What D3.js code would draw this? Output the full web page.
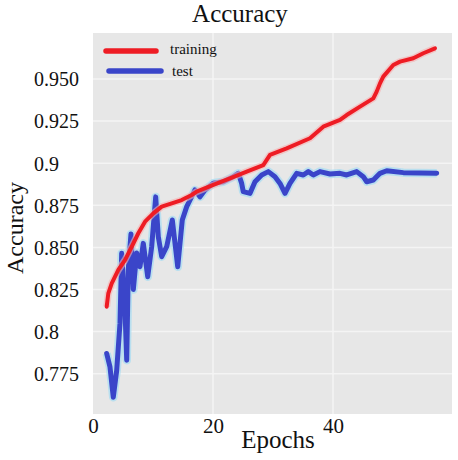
<!DOCTYPE html>
<html><head><meta charset="utf-8">
<script src="https://cdn.jsdelivr.net/npm/d3@7/dist/d3.min.js"></script>
<style>body{margin:0;background:#fff}svg{display:block}</style>
</head><body>
<script>
// ---- data ----
const seriesNames = ["training", "test"];
const trainEpochs = [2.28,2.55,3.12,4.22,5.33,6.45,7.55,8.67,10.05,11.45,13.12,14.78,16.45,17.28,20.05,22.83,25.62,28.38,29.5,32.28,36.17,38.38,41.17,42.28,44.5,46.72,47.28,47.83,48.38,50.05,51.17,53.38,55.05,57.0];
const trainAcc = [0.8148,0.8227,0.8287,0.8366,0.8425,0.8504,0.8584,0.8653,0.8702,0.8742,0.8762,0.8781,0.8811,0.8831,0.8871,0.8910,0.8950,0.8989,0.9049,0.9088,0.9148,0.9217,0.9257,0.9286,0.9336,0.9385,0.9425,0.9474,0.9514,0.9583,0.9603,0.9623,0.9653,0.9682];
const testEpochs = [2.28,2.83,3.38,3.95,4.5,4.78,5.33,5.62,5.88,6.33,6.72,7.28,7.83,8.38,9.12,9.78,10.45,10.88,11.45,12.28,13.22,14.12,14.88,15.62,17.0,17.83,18.67,20.05,21.72,23.38,24.22,24.78,25.05,26.17,27.0,28.12,29.22,30.33,31.17,32.0,32.83,33.95,35.05,35.88,36.72,37.83,39.5,41.17,42.28,43.95,45.05,45.62,46.72,47.83,48.95,51.72,57.28];
const testAcc = [0.787,0.779,0.761,0.777,0.805,0.8465,0.813,0.783,0.837,0.858,0.825,0.8467,0.8385,0.8524,0.8326,0.8504,0.880,0.8564,0.8445,0.8504,0.8663,0.8385,0.8663,0.8742,0.8841,0.880,0.8841,0.8881,0.889,0.892,0.894,0.888,0.8831,0.8821,0.889,0.893,0.895,0.892,0.888,0.8821,0.888,0.894,0.893,0.895,0.893,0.895,0.8936,0.894,0.893,0.895,0.892,0.889,0.890,0.894,0.8955,0.8944,0.894];
const yTickValues = [0.95,0.925,0.9,0.875,0.85,0.825,0.8,0.775];
const yTickLabels = ["0.950","0.925","0.9","0.875","0.850","0.825","0.8","0.775"];
const xTickValues = [0,20,40];
const xTickLabels = ["0","20","40"];

// ---- layout ----
const W = 458, H = 460;
const plot = {left: 93, right: 452, top: 33, bottom: 414};
const serif = "'Liberation Serif','Times New Roman',serif";

const x = d3.scaleLinear().domain([0, 40]).range([93, 333]);
const y = d3.scaleLinear().domain([0.775, 0.95]).range([373.7, 79]);

const svg = d3.select("body").append("svg").attr("width", W).attr("height", H);

svg.append("rect").attr("x", plot.left).attr("y", plot.top)
  .attr("width", plot.right - plot.left).attr("height", plot.bottom - plot.top)
  .attr("fill", "#e7e7e7");

// gridlines
svg.append("g").selectAll("line").data(yTickValues).join("line")
  .attr("x1", plot.left).attr("x2", plot.right)
  .attr("y1", d => y(d)).attr("y2", d => y(d))
  .attr("stroke", "#f4f4f4").attr("stroke-width", 1.5);
svg.append("g").selectAll("line").data(xTickValues.slice(1)).join("line")
  .attr("y1", plot.top).attr("y2", plot.bottom)
  .attr("x1", d => x(d)).attr("x2", d => x(d))
  .attr("stroke", "#f4f4f4").attr("stroke-width", 1.5);

// axes
const yAxis = d3.axisLeft(y).tickValues(yTickValues)
  .tickFormat((d, i) => yTickLabels[i]).tickSize(0);
const gy = svg.append("g").attr("transform", `translate(${plot.left},0)`).call(yAxis);
gy.select(".domain").remove();
gy.selectAll("text").attr("x", 34 - plot.left).attr("text-anchor", "start")
  .attr("font-family", serif).attr("font-size", 20).attr("fill", "#111").attr("dy", "0.34em");

const xAxis = d3.axisBottom(x).tickValues(xTickValues)
  .tickFormat((d, i) => xTickLabels[i]).tickSize(0);
const gx = svg.append("g").attr("transform", `translate(0,${plot.bottom})`).call(xAxis);
gx.select(".domain").remove();
gx.selectAll("text").attr("y", 19).attr("dy", 0)
  .attr("font-family", serif).attr("font-size", 21).attr("fill", "#111");

// lines
const trainData = trainEpochs.map((e, i) => [e, trainAcc[i]]);
const testData = testEpochs.map((e, i) => [e, testAcc[i]]);
const line = d3.line().x(d => x(d[0])).y(d => y(d[1]));

svg.append("path").datum(testData).attr("d", line).attr("fill", "none")
  .attr("stroke", "#a9dcf2").attr("stroke-width", 8.5).attr("stroke-opacity", 0.75)
  .attr("stroke-linejoin", "round");
svg.append("path").datum(testData).attr("d", line).attr("fill", "none")
  .attr("stroke", "#3a45c9").attr("stroke-width", 5)
  .attr("stroke-linejoin", "round").attr("stroke-linecap", "round");

svg.append("path").datum(trainData).attr("d", line).attr("fill", "none")
  .attr("stroke", "#f6b0b0").attr("stroke-width", 7).attr("stroke-opacity", 0.6)
  .attr("stroke-linejoin", "round");
svg.append("path").datum(trainData).attr("d", line).attr("fill", "none")
  .attr("stroke", "#ee1c24").attr("stroke-width", 4)
  .attr("stroke-linejoin", "round").attr("stroke-linecap", "round");

// legend
const legendColors = ["#ee1c24", "#3a45c9"];
const legend = svg.append("g");
seriesNames.forEach((name, i) => {
  const ly = 51 + i * 20;
  legend.append("line").attr("x1", 106 + i * 3).attr("x2", 156 + i * 5)
    .attr("y1", ly).attr("y2", ly)
    .attr("stroke", legendColors[i]).attr("stroke-width", 5.5).attr("stroke-linecap", "round");
  legend.append("text").attr("x", 170 + i * 2).attr("y", ly + 3 + i * 2)
    .attr("font-family", serif).attr("font-size", 15).attr("fill", "#111").text(name);
});

// titles
svg.append("text").attr("x", 240).attr("y", 22).attr("text-anchor", "middle")
  .attr("font-family", serif).attr("font-size", 25).attr("fill", "#111").text("Accuracy");
svg.append("text").attr("x", 278).attr("y", 448).attr("text-anchor", "middle")
  .attr("font-family", serif).attr("font-size", 25).attr("fill", "#111").text("Epochs");
svg.append("text").attr("transform", "translate(23,228) rotate(-90)").attr("text-anchor", "middle")
  .attr("font-family", serif).attr("font-size", 24).attr("fill", "#111").text("Accuracy");
</script>
</body></html>
